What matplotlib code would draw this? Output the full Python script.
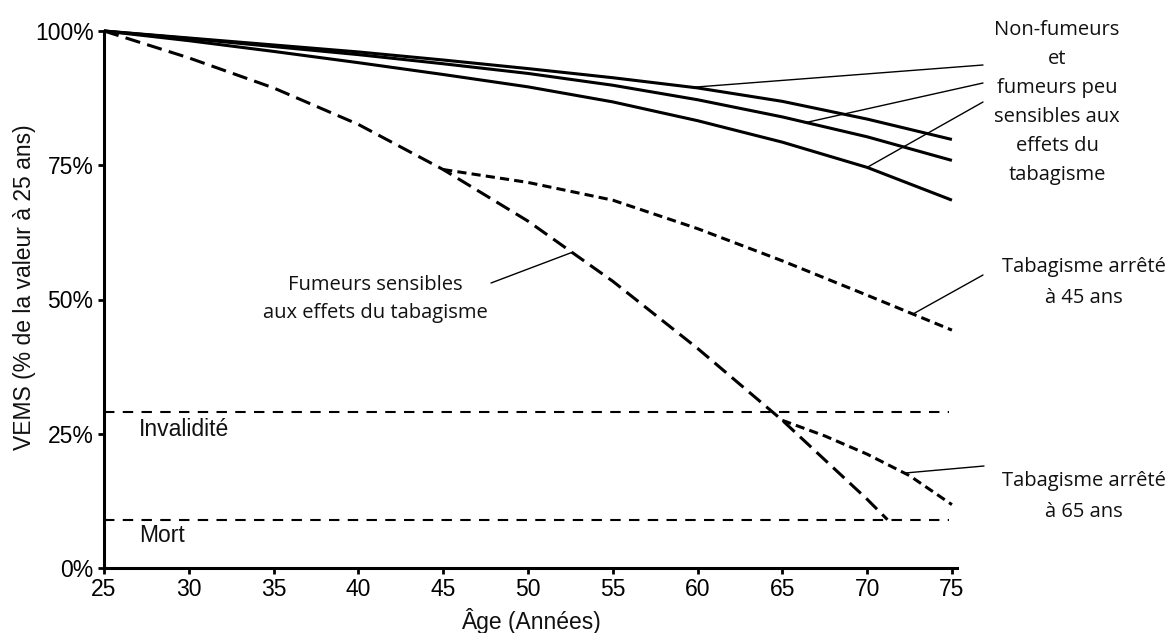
import numpy as np
import matplotlib
matplotlib.use("Agg")
import matplotlib.pyplot as plt

# données (VEMS en % de la valeur à 25 ans)
ages = [25, 30, 35, 40, 45, 50, 55, 60, 65, 70, 75]
non_fumeurs_1 = [100, 98.7, 97.4, 96.1, 94.6, 93.0, 91.3, 89.4, 86.9, 83.6, 79.8]
non_fumeurs_2 = [100, 98.6, 97.1, 95.6, 93.9, 92.1, 89.9, 87.2, 84.0, 80.3, 75.9]
non_fumeurs_3 = [100, 98.2, 96.2, 94.1, 91.9, 89.6, 86.8, 83.3, 79.3, 74.6, 68.5]

ages_sensibles = [25, 30, 35, 40, 45, 50, 55, 60, 65, 70, 71.2]
fumeurs_sensibles = [100, 95.0, 89.4, 82.6, 74.2, 64.6, 53.4, 40.9, 27.5, 12.8, 9.0]

ages_arret45 = [45, 50, 55, 60, 65, 70, 75]
arret_45 = [74.2, 71.8, 68.5, 63.2, 57.2, 50.8, 44.3]

ages_arret65 = [65, 67.5, 70, 72.5, 75]
arret_65 = [27.5, 24.6, 21.2, 17.2, 11.8]

seuil_invalidite = 29.0
seuil_mort = 9.0

x_ticks = [25, 30, 35, 40, 45, 50, 55, 60, 65, 70, 75]
y_ticks = [0, 25, 50, 75, 100]
y_labels = ["0%", "25%", "50%", "75%", "100%"]

W, H = 1176, 633


def fpx(x, y):
    # pixel -> fraction de figure
    return (x / W, 1 - y / H)


fig = plt.figure(figsize=(W / 100, H / 100), dpi=100)
ax = fig.add_axes([104 / W, (H - 568) / H, (957 - 104) / W, (568 - 31) / H])

for serie in [non_fumeurs_1, non_fumeurs_2, non_fumeurs_3]:
    ax.plot(ages, serie, color="black", lw=2.2, clip_on=False,
            solid_capstyle="butt", solid_joinstyle="round")
ax.plot(ages_sensibles, fumeurs_sensibles, color="black", lw=2.2, dashes=(5, 2.4), clip_on=False)
ax.plot(ages_arret45, arret_45, color="black", lw=2.2, dashes=(3, 1.7), clip_on=False)
ax.plot(ages_arret65, arret_65, color="black", lw=2.2, dashes=(3, 1.7), clip_on=False)

ax.hlines([seuil_invalidite, seuil_mort], 25, 74.8, colors="black", lw=1.5, linestyles=(0, (5, 4)))

ax.set_xlim(25, 75.3)
ax.set_ylim(0, 100)
ax.set_xticks(x_ticks)
ax.set_xticklabels([str(t) for t in x_ticks])
ax.set_yticks(y_ticks)
ax.set_yticklabels(y_labels)

for s in ["top", "right"]:
    ax.spines[s].set_visible(False)
for s in ["left", "bottom"]:
    ax.spines[s].set_linewidth(2.2)
ax.tick_params(length=4.5, width=2, labelsize=16.5, pad=3)
for lab in ax.get_xticklabels() + ax.get_yticklabels():
    lab.set_family("Liberation Sans")

arial = dict(family="Liberation Sans", fontsize=16.5, color="#111111")
fig.text(*fpx(25, 287), "VEMS (% de la valeur à 25 ans)", rotation=90, ha="center", va="center", **arial)
fig.text(*fpx(531, 621), "Âge (Années)", ha="center", va="center", **arial)
fig.text(*fpx(139, 429), "Invalidité", ha="left", va="center", **arial)
fig.text(*fpx(139, 536), "Mort", ha="left", va="center", **arial)

# annotations (police type Calibri)
ann_font = dict(family="Open Sans", fontsize=14.5, ha="center", va="center", color="#111111")
bloc = ["Non-fumeurs", "et", "fumeurs peu", "sensibles aux", "effets du", "tabagisme"]
for txt, yy in zip(bloc, [30, 59, 88, 117, 146, 175]):
    fig.text(*fpx(1057, yy), txt, **ann_font)

fig.text(*fpx(1084, 267), "Tabagisme arrêté", **ann_font)
fig.text(*fpx(1084, 298), "à 45 ans", **ann_font)
fig.text(*fpx(1084, 481), "Tabagisme arrêté", **ann_font)
fig.text(*fpx(1084, 512), "à 65 ans", **ann_font)
fig.text(*fpx(375, 285), "Fumeurs sensibles", **ann_font)
fig.text(*fpx(375, 313), "aux effets du tabagisme", **ann_font)


def leader(x_curve, xs, ys, start_px):
    y_curve = np.interp(x_curve, xs, ys)
    ax.annotate("", xy=(x_curve, y_curve), xycoords="data",
                xytext=fpx(*start_px), textcoords="figure fraction",
                arrowprops=dict(arrowstyle="-", lw=1.0, color="black",
                                shrinkA=0, shrinkB=0))


leader(59.7, ages, non_fumeurs_1, (983, 65))
leader(66.4, ages, non_fumeurs_2, (983, 83))
leader(70.0, ages, non_fumeurs_3, (983, 102))
leader(72.7, ages_arret45, arret_45, (983, 275))
leader(72.2, ages_arret65, arret_65, (984, 466))
leader(52.6, ages_sensibles, fumeurs_sensibles, (491, 283))

fig.savefig("out.png", dpi=100)
